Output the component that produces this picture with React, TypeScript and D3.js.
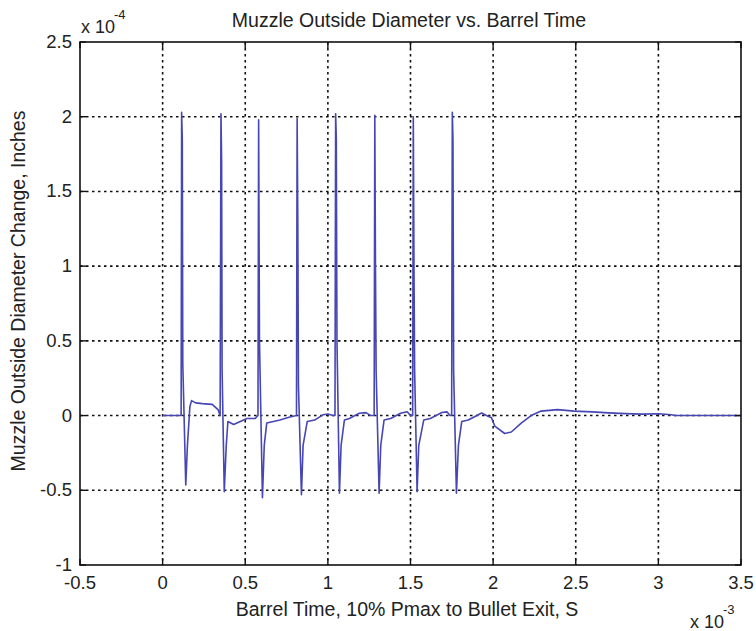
import React from "react";
import * as d3 from "d3";

// barrel time (x 1e-3 s) and muzzle OD change (x 1e-4 in)
const barrelTime = [
  0.0, 0.112, 0.115, 0.119, 0.122, 0.14, 0.15, 0.165, 0.175, 0.2, 0.24, 0.3, 0.335, 0.348,
  0.353, 0.357, 0.36, 0.373, 0.385, 0.395, 0.43, 0.47, 0.51, 0.56, 0.577,
  0.581, 0.586, 0.604, 0.615, 0.63, 0.67, 0.71, 0.77, 0.81,
  0.814, 0.818, 0.822, 0.84, 0.85, 0.875, 0.92, 0.97, 1.0, 1.03, 1.043,
  1.047, 1.051, 1.055, 1.07, 1.08, 1.1, 1.13, 1.19, 1.23, 1.26, 1.28,
  1.284, 1.288, 1.292, 1.31, 1.32, 1.34, 1.38, 1.44, 1.48, 1.5, 1.513,
  1.517, 1.521, 1.525, 1.54, 1.55, 1.58, 1.62, 1.69, 1.72, 1.74, 1.749,
  1.753, 1.757, 1.761, 1.778, 1.79, 1.81, 1.85, 1.93, 1.96, 1.99, 2.01, 2.07, 2.11, 2.17,
  2.23, 2.29, 2.39, 2.49, 2.6, 2.7, 2.8, 2.9, 3.0, 3.08, 3.1, 3.5,
];
const diameterChange = [
  0, 0, 2.03, 1.85, 0.35, -0.465, -0.2, 0.06, 0.1, 0.085, 0.08, 0.075, 0.04, 0.0,
  2.02, 1.7, 0.3, -0.51, -0.2, -0.04, -0.06, -0.04, -0.02, -0.02, 0.0,
  1.98, 0.5, -0.55, -0.2, -0.05, -0.04, -0.03, -0.01, 0.0,
  1.99, 1.3, 0.2, -0.53, -0.2, -0.04, -0.03, 0.005, 0.01, 0.0, 0.0,
  2.02, 1.85, 0.5, -0.52, -0.2, -0.03, -0.02, 0.015, 0.02, 0.0, 0.0,
  2.01, 1.0, 0.3, -0.52, -0.2, -0.03, -0.02, 0.015, 0.025, 0.0, 0.0,
  2.0, 1.0, 0.3, -0.51, -0.2, -0.03, -0.02, 0.02, 0.025, 0.0, 0.0,
  2.03, 1.85, 0.3, -0.52, -0.2, -0.04, -0.03, 0.017, 0.0, -0.015, -0.07, -0.12, -0.11, -0.05,
  0.0, 0.03, 0.04, 0.03, 0.025, 0.018, 0.013, 0.01, 0.012, 0.005, 0, 0,
];
const xTicks = [-0.5, 0, 0.5, 1, 1.5, 2, 2.5, 3, 3.5];
const yTicks = [-1, -0.5, 0, 0.5, 1, 1.5, 2, 2.5];

const W = 756;
const H = 631;
const font = "'Liberation Sans', Arial, sans-serif";

export default function App() {
  const left = 80, right = 741, top = 42, bottom = 565;
  const x = d3.scaleLinear().domain([-0.5, 3.5]).range([left, right]);
  const y = d3.scaleLinear().domain([-1, 2.5]).range([bottom, top]);

  const pts = barrelTime.map((t, i) => [t, diameterChange[i]] as [number, number]);
  const line = d3
    .line<[number, number]>()
    .x((d) => x(d[0]))
    .y((d) => y(d[1]));

  const tickLen = 6;

  return (
    <svg
      width={W}
      height={H}
      style={{ position: "absolute", left: 0, top: 0, background: "#fff" }}
      fontFamily={font}
    >
      <rect x={0} y={0} width={W} height={H} fill="#fff" />

      {/* grid */}
      <g stroke="#111" strokeWidth={1.6} strokeDasharray="2.5,3.5">
        {xTicks.slice(1, -1).map((t) => (
          <line key={"gx" + t} x1={x(t)} x2={x(t)} y1={top} y2={bottom} />
        ))}
        {yTicks.slice(1, -1).map((t) => (
          <line key={"gy" + t} x1={left} x2={right} y1={y(t)} y2={y(t)} />
        ))}
      </g>

      {/* data */}
      <path d={line(pts) ?? ""} fill="none" stroke="#4646b4" strokeWidth={1.6} strokeLinejoin="round" />

      {/* box + ticks */}
      <rect x={left} y={top} width={right - left} height={bottom - top} fill="none" stroke="#111" strokeWidth={1.6} />
      <g stroke="#111" strokeWidth={1.4}>
        {xTicks.map((t) => (
          <g key={"tx" + t}>
            <line x1={x(t)} x2={x(t)} y1={bottom} y2={bottom - tickLen} />
            <line x1={x(t)} x2={x(t)} y1={top} y2={top + tickLen} />
          </g>
        ))}
        {yTicks.map((t) => (
          <g key={"ty" + t}>
            <line x1={left} x2={left + tickLen} y1={y(t)} y2={y(t)} />
            <line x1={right} x2={right - tickLen} y1={y(t)} y2={y(t)} />
          </g>
        ))}
      </g>

      {/* tick labels */}
      <g fontSize={18.5} fill="#222">
        {xTicks.map((t) => (
          <text key={"lx" + t} x={x(t)} y={589} textAnchor="middle">
            {String(t)}
          </text>
        ))}
        {yTicks.map((t) => (
          <text key={"ly" + t} x={left - 8} y={y(t) + 6} textAnchor="end">
            {String(t)}
          </text>
        ))}
      </g>

      {/* exponents */}
      <text x={81} y={33} fontSize={18} fill="#222">
        x 10
      </text>
      <text x={114} y={19} fontSize={13} fill="#222">
        -4
      </text>
      <text x={690} y={628} fontSize={18} fill="#222">
        x 10
      </text>
      <text x={723} y={614} fontSize={13} fill="#222">
        -3
      </text>

      {/* titles */}
      <text x={409} y={27} fontSize={19.5} textAnchor="middle" fill="#222">
        Muzzle Outside Diameter vs. Barrel Time
      </text>
      <text x={407} y={616} fontSize={19.5} textAnchor="middle" fill="#222">
        Barrel Time, 10% Pmax to Bullet Exit, S
      </text>
      <text
        transform="translate(25, 291) rotate(-90)"
        fontSize={19.5}
        textAnchor="middle"
        fill="#222"
      >
        Muzzle Outside Diameter Change, Inches
      </text>
    </svg>
  );
}
